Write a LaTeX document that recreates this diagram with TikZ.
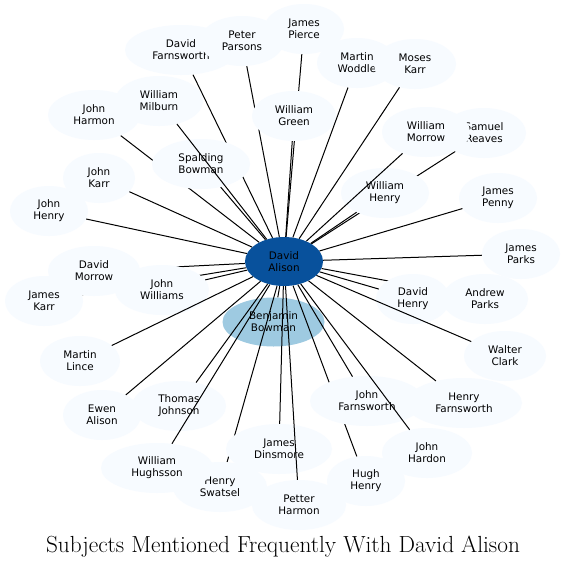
\documentclass[tikz,border=0pt]{standalone}
\usepackage{fontspec}
\newfontfamily\labelfont{DejaVu Sans}
\usetikzlibrary{shapes.geometric}
\definecolor{satfill}{RGB}{247,251,255}
\definecolor{cenfill}{RGB}{8,81,156}
\definecolor{bbfill}{RGB}{158,202,225}
\pgfdeclarelayer{backlayer}
\pgfdeclarelayer{bblayer}
\pgfdeclarelayer{underlayer}
\pgfdeclarelayer{satlayer}
\pgfsetlayers{backlayer,bblayer,underlayer,satlayer,main}
\begin{document}
\begin{tikzpicture}[x=1pt,y=-1pt,
  base/.style={ellipse, inner sep=0pt, minimum height=50pt, align=center,
    font=\labelfont\fontsize{10.4}{12}\selectfont},
  sat/.style={base, fill=satfill, minimum width=#1},
  link/.style={line width=1pt, black}]
\useasboundingbox (0,0) rectangle (566,566);
\begin{pgfonlayer}{backlayer}
\fill[white] (0,0) rectangle (566,566);
\end{pgfonlayer}

\begin{pgfonlayer}{bblayer}
\node[base, fill=bbfill, minimum width=102pt, minimum height=49pt] (bb) at (273.5,322) {Benjamin\\Bowman};
\end{pgfonlayer}

\begin{pgfonlayer}{satlayer}
\node[sat=112pt] (df) at (181,50) {David\\Farnsworth};
\node[sat=84pt] (pp) at (242,41) {Peter\\Parsons};
\node[sat=80pt] (jp) at (304,29) {James\\Pierce};
\node[sat=80pt] (mw) at (357,63) {Martin\\Woddle};
\node[sat=82pt] (mk) at (415,64) {Moses\\Karr};
\node[sat=84pt] (wg) at (294,116) {William\\Green};
\node[sat=92pt] (jhar) at (94,115) {John\\Harmon};
\node[sat=88pt] (wmil) at (159,101) {William\\Milburn};
\node[sat=98pt] (sb) at (201,164) {Spalding\\Bowman};
\node[sat=72pt] (jkarr) at (99,178) {John\\Karr};
\node[sat=78pt] (jhen) at (49,211) {John\\Henry};
\node[sat=84pt] (sr) at (484,133) {Samuel\\Reaves};
\node[sat=88pt] (wmor) at (426,132) {William\\Morrow};
\node[sat=88pt] (wh) at (385,193) {William\\Henry};
\node[sat=78pt] (jpen) at (498,198) {James\\Penny};
\node[sat=78pt] (jpar) at (521,254) {James\\Parks};
\node[sat=86pt] (ap) at (485,299) {Andrew\\Parks};
\node[sat=74pt] (dh) at (413,299) {David\\Henry};
\node[sat=82pt] (wc) at (505,356) {Walter\\Clark};
\node[sat=116pt] (hf) at (464,403) {Henry\\Farnsworth};
\node[sat=90pt] (jhard) at (427,453) {John\\Hardon};
\node[sat=78pt] (hh) at (366,481) {Hugh\\Henry};
\node[sat=114pt] (jf) at (367,401) {John\\Farnsworth};
\node[sat=94pt] (ph) at (299,505) {Petter\\Harmon};
\node[sat=94pt] (hs) at (220,487) {Henry\\Swatsel};
\node[sat=106pt] (jd) at (279,449) {James\\Dinsmore};
\node[sat=112pt] (whug) at (157,468) {William\\Hughsson};
\node[sat=94pt] (tj) at (179,406) {Thomas\\Johnson};
\node[sat=78pt] (ea) at (102,415) {Ewen\\Alison};
\node[sat=80pt] (ml) at (80,361) {Martin\\Lince};
\node[sat=78pt] (jkar) at (44,301) {James\\Karr};
\node[sat=92pt] (dm) at (94,271) {David\\Morrow};
\node[sat=94pt] (jw) at (162,290) {John\\Williams};
\end{pgfonlayer}

\node[base, fill=cenfill, minimum width=78pt, minimum height=49pt] (c) at (284,261.5) {David\\Alison};

\begin{pgfonlayer}{underlayer}
\foreach \t in {df,jhar,pp,jp,sr,ap,hh,hs,dm,jkar}
  \draw[link] (c) -- (\t);
\end{pgfonlayer}

\foreach \t in {wmil,sb,wg,mw,mk,wmor,wh,jpen,jpar,dh,wc,hf,jf,jhard,ph,jd,whug,tj,ea,ml,jw,jhen,jkarr,bb}
  \draw[link] (c) -- (\t);

\node[anchor=base, font=\fontsize{23.3}{28}\selectfont] (title) at (283,552) {Subjects Mentioned Frequently With David Alison};
\end{tikzpicture}
\end{document}
